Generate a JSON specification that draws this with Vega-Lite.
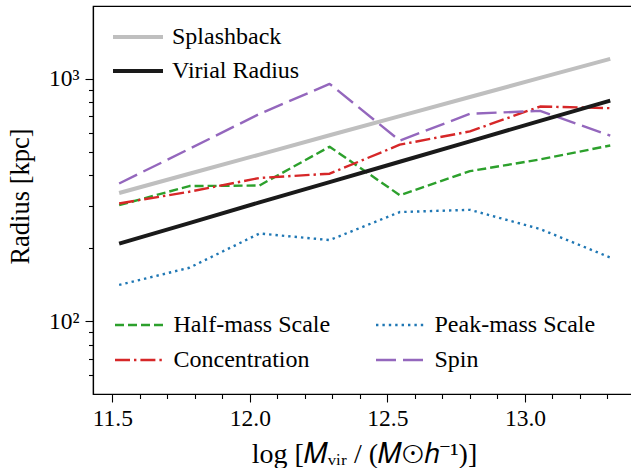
{
  "$schema": "https://vega.github.io/schema/vega-lite/v6.json",
  "width": 542,
  "height": 388,
  "autosize": {"type": "none"},
  "padding": {"left": 93, "top": 6, "right": 0, "bottom": 74},
  "background": "white",
  "data": {
    "values": [
      {"x": 11.525, "r": 338, "series": "Splashback"},
      {"x": 11.78, "r": 406, "series": "Splashback"},
      {"x": 12.035, "r": 487, "series": "Splashback"},
      {"x": 12.29, "r": 585, "series": "Splashback"},
      {"x": 12.545, "r": 702, "series": "Splashback"},
      {"x": 12.8, "r": 842, "series": "Splashback"},
      {"x": 13.055, "r": 1010, "series": "Splashback"},
      {"x": 13.31, "r": 1210, "series": "Splashback"},
      {"x": 11.525, "r": 209, "series": "Virial Radius"},
      {"x": 11.78, "r": 254, "series": "Virial Radius"},
      {"x": 12.035, "r": 309, "series": "Virial Radius"},
      {"x": 12.29, "r": 375, "series": "Virial Radius"},
      {"x": 12.545, "r": 455, "series": "Virial Radius"},
      {"x": 12.8, "r": 552, "series": "Virial Radius"},
      {"x": 13.055, "r": 671, "series": "Virial Radius"},
      {"x": 13.31, "r": 814, "series": "Virial Radius"},
      {"x": 11.525, "r": 301, "series": "Half-mass Scale"},
      {"x": 11.78, "r": 361, "series": "Half-mass Scale"},
      {"x": 12.035, "r": 363, "series": "Half-mass Scale"},
      {"x": 12.29, "r": 525, "series": "Half-mass Scale"},
      {"x": 12.545, "r": 331, "series": "Half-mass Scale"},
      {"x": 12.8, "r": 416, "series": "Half-mass Scale"},
      {"x": 13.055, "r": 465, "series": "Half-mass Scale"},
      {"x": 13.31, "r": 531, "series": "Half-mass Scale"},
      {"x": 11.525, "r": 141, "series": "Peak-mass Scale"},
      {"x": 11.78, "r": 166, "series": "Peak-mass Scale"},
      {"x": 12.035, "r": 230, "series": "Peak-mass Scale"},
      {"x": 12.29, "r": 216, "series": "Peak-mass Scale"},
      {"x": 12.545, "r": 282, "series": "Peak-mass Scale"},
      {"x": 12.8, "r": 288, "series": "Peak-mass Scale"},
      {"x": 13.055, "r": 240, "series": "Peak-mass Scale"},
      {"x": 13.31, "r": 183, "series": "Peak-mass Scale"},
      {"x": 11.525, "r": 306, "series": "Concentration"},
      {"x": 11.78, "r": 342, "series": "Concentration"},
      {"x": 12.035, "r": 390, "series": "Concentration"},
      {"x": 12.29, "r": 406, "series": "Concentration"},
      {"x": 12.545, "r": 535, "series": "Concentration"},
      {"x": 12.8, "r": 607, "series": "Concentration"},
      {"x": 13.055, "r": 769, "series": "Concentration"},
      {"x": 13.31, "r": 757, "series": "Concentration"},
      {"x": 11.525, "r": 370, "series": "Spin"},
      {"x": 11.78, "r": 514, "series": "Spin"},
      {"x": 12.035, "r": 717, "series": "Spin"},
      {"x": 12.29, "r": 954, "series": "Spin"},
      {"x": 12.545, "r": 556, "series": "Spin"},
      {"x": 12.8, "r": 718, "series": "Spin"},
      {"x": 13.055, "r": 738, "series": "Spin"},
      {"x": 13.31, "r": 583, "series": "Spin"}
    ]
  },
  "encoding": {
    "x": {
      "field": "x",
      "type": "quantitative",
      "scale": {"domain": [11.43, 13.4], "nice": false, "zero": false},
      "axis": {
        "values": [11.5, 11.6, 11.7, 11.8, 11.9, 12.0, 12.1, 12.2, 12.3, 12.4, 12.5, 12.6, 12.7, 12.8, 12.9, 13.0, 13.1, 13.2, 13.3],
        "labelExpr": "abs(datum.value*2 - round(datum.value*2)) < 0.01 ? format(datum.value, '.1f') : ''",
        "tickSize": {"condition": {"test": "abs(datum.value*2 - round(datum.value*2)) < 0.01", "value": 8}, "value": 4.5},
        "labelFontSize": 23.5,
        "labelPadding": 4,
        "labelOverlap": false,
        "labelFlush": false,
        "title": "log [𝑀ᵥᵢᵣ / (𝑀⊙ℎ⁻¹)]",
        "titleFontSize": 28,
        "titleBaseline": "alphabetic",
        "titleY": 68
      }
    },
    "y": {
      "field": "r",
      "type": "quantitative",
      "scale": {"type": "log", "domain": [50, 2000], "nice": false},
      "axis": {
        "values": [60, 70, 80, 90, 100, 200, 300, 400, 500, 600, 700, 800, 900, 1000],
        "labelExpr": "datum.value == 100 ? '10²' : datum.value == 1000 ? '10³' : ''",
        "tickSize": {"condition": {"test": "datum.value == 100 || datum.value == 1000", "value": 8}, "value": 4.5},
        "labelFontSize": 23.5,
        "labelPadding": 6,
        "labelOverlap": false,
        "labelFlush": false,
        "title": "Radius [kpc]",
        "titleFontSize": 26.5,
        "titleBaseline": "alphabetic",
        "titleX": -65,
        "titleY": 190
      }
    }
  },
  "layer": [
    {
      "transform": [{"filter": {"field": "series", "oneOf": ["Half-mass Scale", "Peak-mass Scale", "Concentration", "Spin"]}}],
      "mark": {"type": "line", "strokeWidth": 2.4, "strokeJoin": "round"},
      "encoding": {
        "color": {
          "field": "series",
          "type": "nominal",
          "scale": {"domain": ["Half-mass Scale", "Concentration", "Peak-mass Scale", "Spin"], "range": ["#2ca02c", "#d62728", "#1f77b4", "#9467bd"]},
          "legend": {"orient": "none", "legendX": 20.5, "legendY": 307, "title": null, "columns": 2, "columnPadding": 44, "symbolType": "stroke", "symbolSize": 2500, "symbolStrokeWidth": 2.4, "clipHeight": 24, "rowPadding": 11, "labelFont": "Liberation Serif", "labelFontSize": 24, "labelColor": "#000", "labelOffset": 7, "labelLimit": 400, "padding": 0}
        },
        "strokeDash": {
          "field": "series",
          "type": "nominal",
          "scale": {"domain": ["Half-mass Scale", "Concentration", "Peak-mass Scale", "Spin"], "range": [[9, 4], [15, 4, 2.4, 4], [2.4, 4], [20, 7]]},
          "legend": {"orient": "none", "legendX": 20.5, "legendY": 307, "title": null, "columns": 2, "columnPadding": 44, "symbolType": "stroke", "symbolSize": 2500, "symbolStrokeWidth": 2.4, "clipHeight": 24, "rowPadding": 11, "labelFont": "Liberation Serif", "labelFontSize": 24, "labelColor": "#000", "labelOffset": 7, "labelLimit": 400, "padding": 0}
        }
      }
    },
    {
      "transform": [{"filter": {"field": "series", "oneOf": ["Splashback", "Virial Radius"]}}],
      "mark": {"type": "line", "strokeWidth": 4, "strokeJoin": "round"},
      "encoding": {
        "color": {
          "field": "series",
          "type": "nominal",
          "scale": {"domain": ["Splashback", "Virial Radius"], "range": ["#bfbfbf", "#1a1a1a"]},
          "legend": {"orient": "none", "legendX": 18, "legendY": 19, "title": null, "symbolType": "stroke", "symbolSize": 2500, "symbolStrokeWidth": 4, "clipHeight": 24, "rowPadding": 10, "labelFont": "Liberation Serif", "labelFontSize": 24, "labelColor": "#000", "labelOffset": 7, "labelLimit": 400, "padding": 0}
        }
      }
    }
  ],
  "resolve": {
    "scale": {"color": "independent", "strokeDash": "independent"},
    "legend": {"color": "independent", "strokeDash": "independent"}
  },
  "config": {
    "view": {"stroke": "#000", "strokeWidth": 1.2},
    "axis": {
      "grid": false,
      "domainColor": "#000",
      "domainWidth": 1.2,
      "tickColor": "#000",
      "tickWidth": 1.1,
      "labelColor": "#000",
      "titleColor": "#000",
      "labelFont": "Liberation Serif",
      "titleFont": "Liberation Serif",
      "titleFontWeight": "normal"
    }
  }
}
